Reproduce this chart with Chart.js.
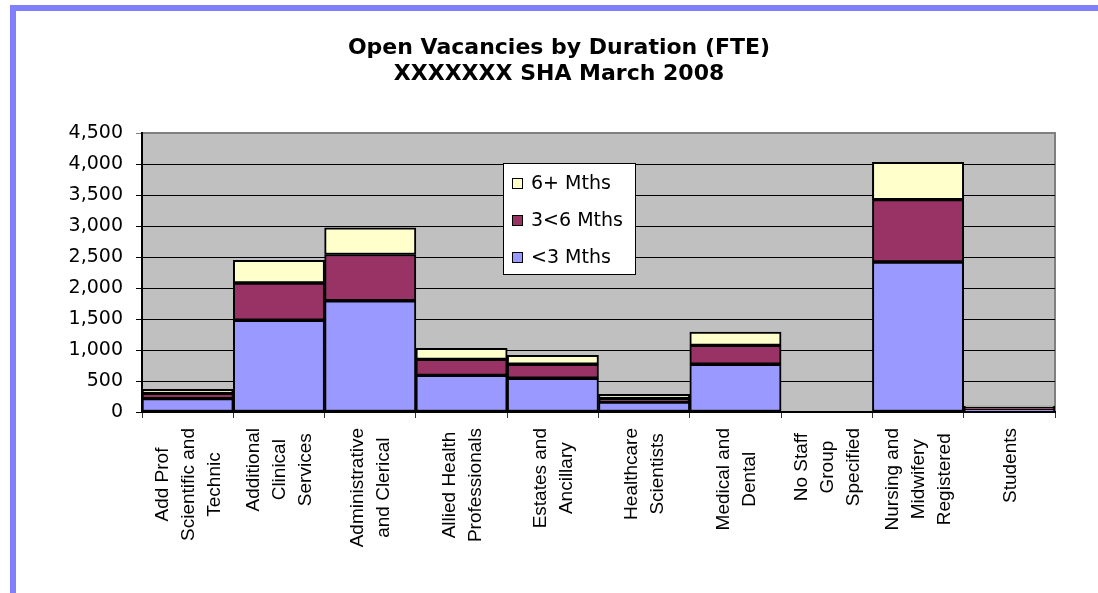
<!DOCTYPE html>
<html>
<head>
<meta charset="utf-8">
<script src="https://cdn.jsdelivr.net/npm/chart.js@4"></script>
<style>
  html, body { margin: 0; padding: 0; background: #fff; }
  #frame {
    position: absolute; left: 10px; top: 5px;
    width: 1082px; height: 582px;
    border-left: 6px solid #8080ff; border-top: 6px solid #8080ff;
  }
  canvas { display: block; }
</style>
</head>
<body>
<div id="frame"><canvas id="chart" width="1082" height="582"></canvas></div>
<script>
// staff groups (split into label lines as in the picture)
const categories = [
  ["Add Prof", "Scientific and", "Technic"],
  ["Additional", "Clinical", "Services"],
  ["Administrative", "and Clerical"],
  ["Allied Health", "Professionals"],
  ["Estates and", "Ancillary"],
  ["Healthcare", "Scientists"],
  ["Medical and", "Dental"],
  ["No Staff", "Group", "Specified"],
  ["Nursing and", "Midwifery", "Registered"],
  ["Students"],
];

// FTE vacancies by duration
const under3 = [215, 1480, 1795, 590, 545, 160, 770, null, 2420, 35];
const from3to6 = [85, 600, 745, 260, 225, 60, 305, null, 1005, 40];
const over6 = [65, 365, 430, 175, 145, 65, 215, null, 600, 20];

const seriesNames = ["<3 Mths", "3<6 Mths", "6+ Mths"];
const seriesColors = ["#9999ff", "#993366", "#ffffcc"];
const titleLines = ["Open Vacancies by Duration (FTE)", "XXXXXXX SHA March 2008"];

const FONT = "'DejaVu Sans', sans-serif";

// grey plot area with a grey frame
const plotBg = {
  id: "plotBg",
  beforeDraw(chart) {
    const { ctx, chartArea: a } = chart;
    ctx.save();
    ctx.fillStyle = "#c0c0c0";
    ctx.fillRect(a.left, a.top, a.right - a.left, a.bottom - a.top);
    ctx.strokeStyle = "#808080";
    ctx.lineWidth = 2;
    ctx.strokeRect(a.left, a.top, a.right - a.left, a.bottom - a.top);
    ctx.restore();
  },
};

// two-line bold title, centred a little right of the canvas middle
const titleText = {
  id: "titleText",
  afterDraw(chart) {
    const { ctx } = chart;
    ctx.save();
    ctx.font = "bold 22px " + FONT;
    ctx.fillStyle = "#000";
    ctx.textAlign = "center";
    ctx.textBaseline = "middle";
    titleLines.forEach((t, i) => ctx.fillText(t, 543, 37 + i * 26));
    ctx.restore();
  },
};

// rotated, centred category labels under each bar
const xLabels = {
  id: "xLabels",
  afterDraw(chart) {
    const { ctx } = chart;
    const x = chart.scales.x;
    const top = x.top + 16;
    ctx.save();
    ctx.font = "19px 'Liberation Sans', Arial, sans-serif";
    ctx.fillStyle = "#000";
    ctx.textAlign = "center";
    ctx.textBaseline = "middle";
    chart.data.labels.forEach((lines, i) => {
      const cx = x.getPixelForValue(i);
      const w = Math.max(...lines.map((l) => ctx.measureText(l).width));
      const cy = top + w / 2;
      lines.forEach((line, k) => {
        const lx = cx + (k - (lines.length - 1) / 2) * 26;
        ctx.save();
        ctx.translate(lx, cy);
        ctx.rotate(-Math.PI / 2);
        ctx.fillText(line, 0, 1);
        ctx.restore();
      });
    });
    ctx.restore();
  },
};

// legend box inside the plot, series listed top-down in reverse
const boxLegend = {
  id: "boxLegend",
  afterDraw(chart) {
    const { ctx } = chart;
    const left = 487, top = 152, w = 132, h = 111;
    ctx.save();
    ctx.fillStyle = "#fff";
    ctx.fillRect(left, top, w, h);
    ctx.strokeStyle = "#000";
    ctx.lineWidth = 1;
    ctx.strokeRect(left + 0.5, top + 0.5, w, h);
    ctx.font = "19px " + FONT;
    ctx.textBaseline = "middle";
    const sets = chart.data.datasets.slice().reverse();
    sets.forEach((ds, i) => {
      const cy = top + 20 + i * 37;
      ctx.fillStyle = ds.backgroundColor;
      ctx.fillRect(left + 9, cy - 5, 11, 11);
      ctx.strokeRect(left + 9.5, cy - 4.5, 10, 10);
      ctx.fillStyle = "#000";
      ctx.fillText(ds.label, left + 28, cy + 1);
    });
    ctx.restore();
  },
};

const datasets = [under3, from3to6, over6].map((data, i) => ({
  label: seriesNames[i],
  data,
  backgroundColor: seriesColors[i],
  borderColor: "#000",
  borderWidth: 2,
  borderSkipped: false,
  barPercentage: 1,
  categoryPercentage: 1,
}));

new Chart(document.getElementById("chart"), {
  type: "bar",
  data: { labels: categories, datasets },
  plugins: [plotBg, titleText, xLabels, boxLegend],
  options: {
    responsive: false,
    animation: false,
    layout: { padding: { left: 0, right: 43, top: 122, bottom: 0 } },
    plugins: {
      legend: { display: false },
      tooltip: { enabled: false },
      title: { display: false },
    },
    scales: {
      x: {
        stacked: true,
        offset: true,
        grid: {
          offset: true,
          drawOnChartArea: false,
          drawTicks: true,
          tickLength: 6,
          color: "#333",
        },
        border: { color: "#000", width: 2 },
        ticks: { display: false },
        afterFit(scale) { scale.height = 181; },
      },
      y: {
        stacked: true,
        min: 0,
        max: 4500,
        ticks: {
          stepSize: 500,
          color: "#000",
          padding: 13,
          font: { family: FONT, size: 19 },
          callback: (v) => v.toLocaleString("en-US"),
        },
        grid: {
          color: (c) => (c.tick && c.tick.value === 4500 ? "#808080" : "#000"),
          lineWidth: 1,
          tickLength: 6,
        },
        border: { color: "#000", width: 2 },
        afterFit(scale) { scale.width = 126; },
      },
    },
  },
});
</script>
</body>
</html>
